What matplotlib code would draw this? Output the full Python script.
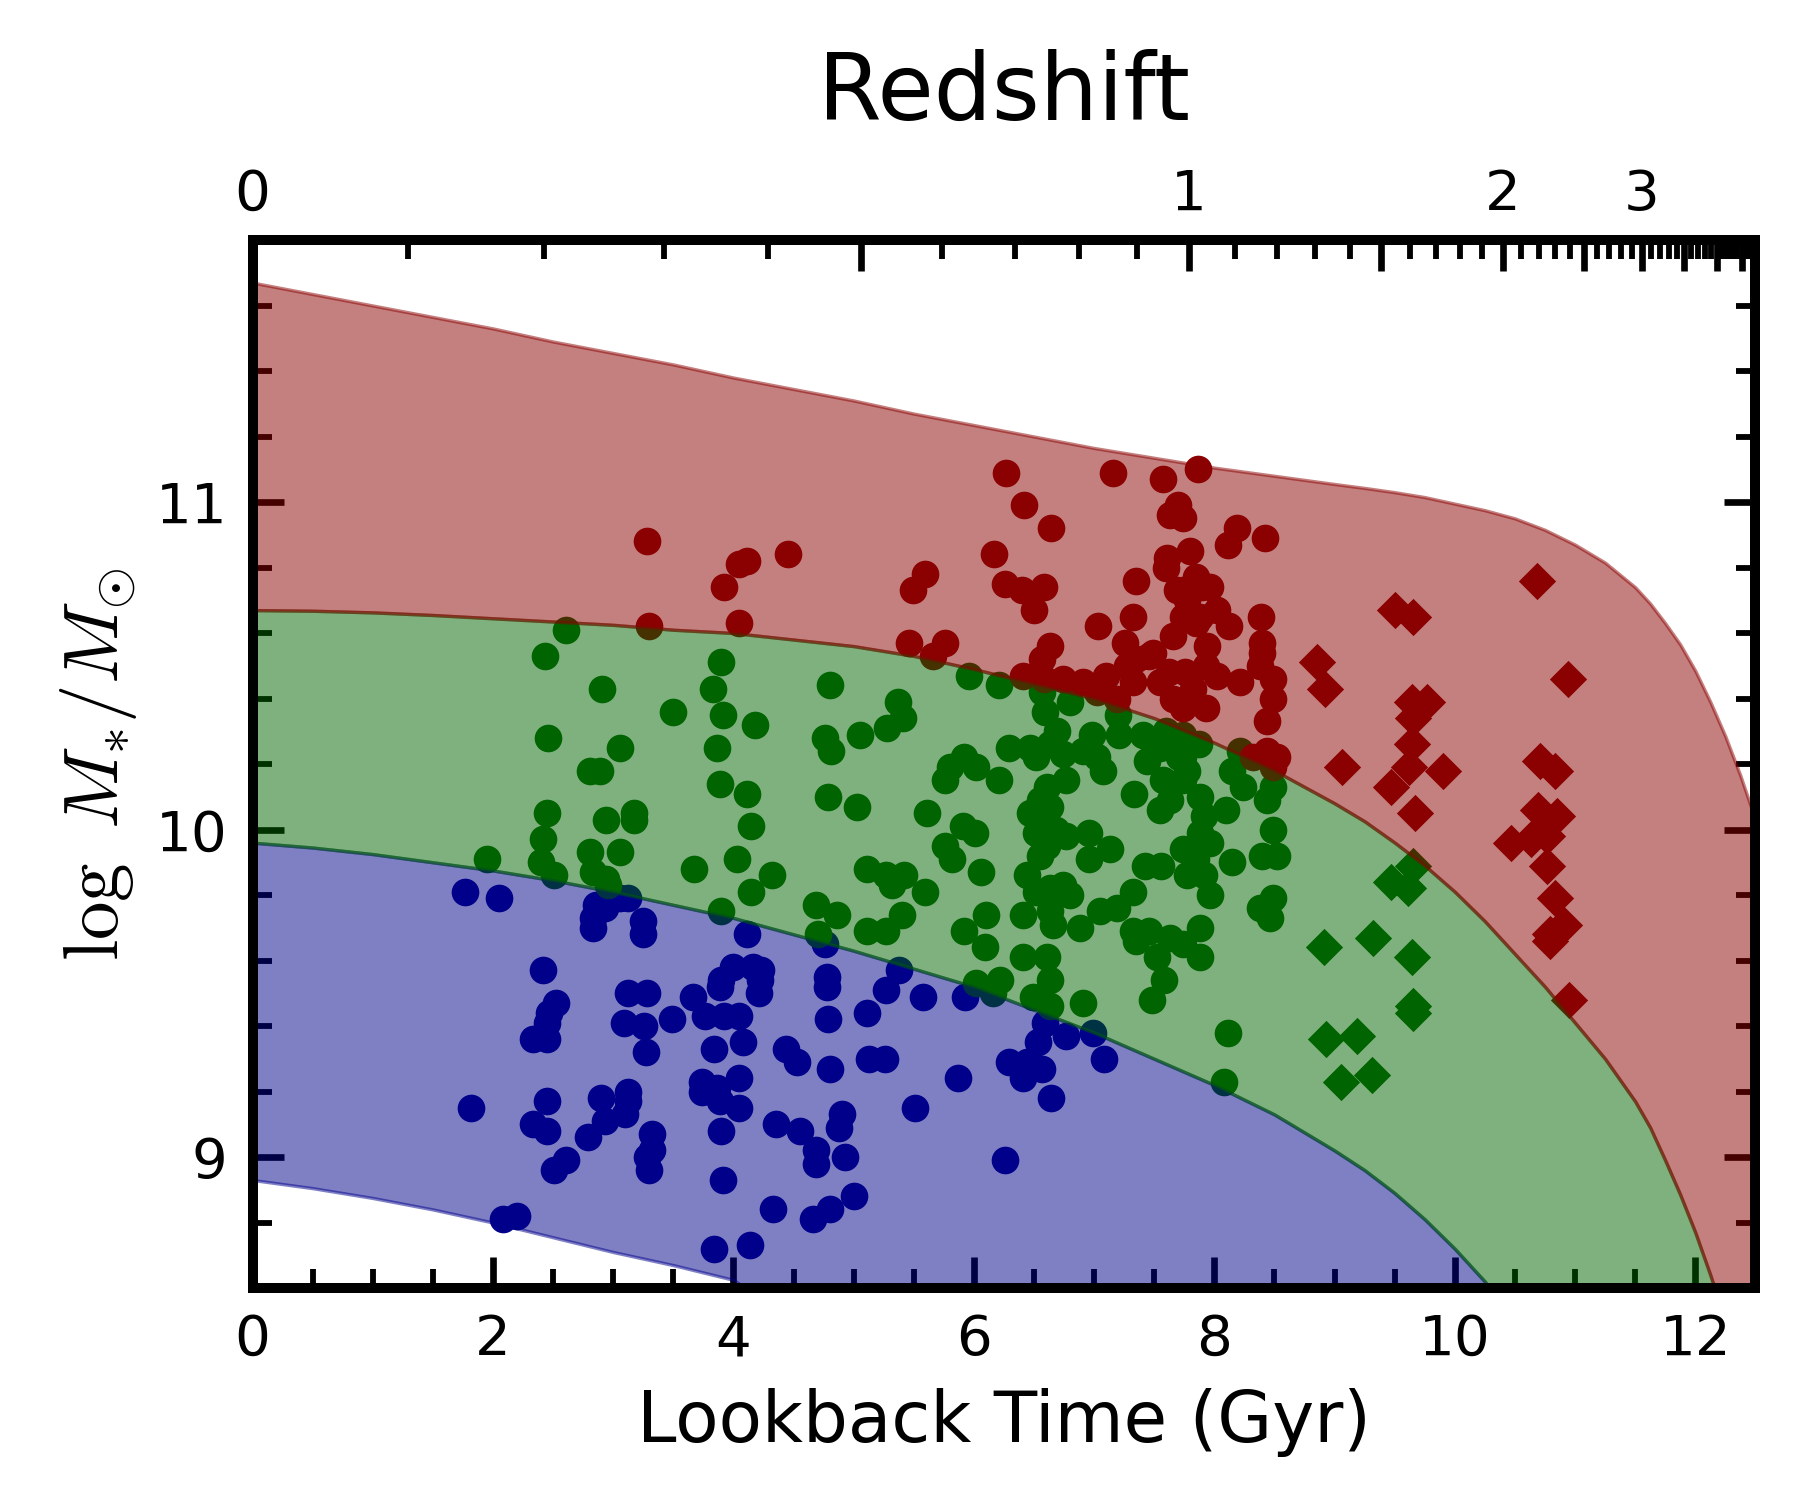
import numpy as np
import matplotlib
matplotlib.use("Agg")
import matplotlib.pyplot as plt
from matplotlib.ticker import MultipleLocator, FixedLocator, FixedFormatter

plt.rcParams["mathtext.fontset"] = "cm"

# ── Band boundaries (lookback time in Gyr, log stellar mass) ─────────────────
T_GRID = [0, 0.5, 1, 1.5, 2, 2.5, 3, 3.5, 4, 4.5, 5, 5.5, 6, 6.5, 7, 7.5, 8,
          8.5, 9, 9.25, 9.5, 9.75, 10, 10.25, 10.5, 10.75, 11, 11.25, 11.5,
          11.625, 11.75, 11.875, 12, 12.125, 12.25, 12.375, 12.5]
TOP_RED = [11.67, 11.635, 11.60, 11.565, 11.53, 11.49, 11.455, 11.42, 11.38,
           11.345, 11.31, 11.27, 11.235, 11.20, 11.165, 11.135, 11.105, 11.08,
           11.055, 11.043, 11.03, 11.015, 10.995, 10.975, 10.95, 10.915, 10.87,
           10.815, 10.74, 10.69, 10.63, 10.565, 10.485, 10.39, 10.285, 10.165,
           10.03]
RED_GREEN = [10.67, 10.668, 10.663, 10.655, 10.645, 10.635, 10.625, 10.61,
             10.60, 10.58, 10.56, 10.53, 10.49, 10.445, 10.40, 10.34, 10.265,
             10.18, 10.08, 10.025, 9.96, 9.89, 9.81, 9.72, 9.62, 9.52, 9.41,
             9.30, 9.17, 9.09, 8.99, 8.885, 8.77, 8.64, 8.50, 8.40, 8.30]
GREEN_BLUE = [9.96, 9.945, 9.925, 9.90, 9.875, 9.845, 9.81, 9.77, 9.73, 9.68,
              9.63, 9.575, 9.52, 9.45, 9.38, 9.30, 9.22, 9.13, 9.02, 8.96,
              8.89, 8.81, 8.72, 8.62, 8.50, 8.40, 8.30, 8.20, 8.10, 8.05,
              8.00, 7.95, 7.90, 7.85, 7.80, 7.75, 7.70]
BOTTOM_BLUE = [8.93, 8.905, 8.875, 8.84, 8.80, 8.755, 8.71, 8.67, 8.625, 8.50,
               8.40, 8.30, 8.20, 8.10, 8.00, 7.90, 7.80, 7.70, 7.60, 7.55,
               7.50, 7.45, 7.40, 7.35, 7.30, 7.25, 7.20, 7.15, 7.10, 7.05,
               7.00, 6.95, 6.90, 6.85, 6.80, 6.75, 6.70]

# ── Galaxies (lookback time, log M*) ─────────────────────────────────────────
BLUE_CIRCLES = [
    (1.77, 9.81), (2.05, 9.79), (2.86, 9.77), (2.83, 9.73), (2.83, 9.70),
    (2.93, 9.76), (3.06, 9.79), (3.12, 9.79), (3.25, 9.72), (3.25, 9.68),
    (4.11, 9.68), (4.76, 9.65), (5.38, 9.57), (2.42, 9.57), (2.52, 9.47),
    (2.47, 9.44), (2.45, 9.41), (2.33, 9.36), (2.45, 9.36), (3.12, 9.50),
    (3.28, 9.50), (3.09, 9.41), (3.26, 9.40), (3.27, 9.32), (3.49, 9.42),
    (3.66, 9.49), (3.89, 9.52), (3.90, 9.54), (4.00, 9.58), (4.16, 9.58),
    (4.23, 9.57), (4.22, 9.54), (4.21, 9.50), (3.76, 9.43), (3.92, 9.43),
    (4.05, 9.43), (3.84, 9.33), (4.08, 9.35), (4.78, 9.55), (4.78, 9.52),
    (4.79, 9.42), (5.27, 9.51), (5.11, 9.44), (4.44, 9.33), (4.53, 9.29),
    (4.80, 9.27), (5.13, 9.30), (5.26, 9.30), (1.82, 9.15), (2.45, 9.17),
    (2.33, 9.10), (2.45, 9.08), (2.79, 9.06), (2.90, 9.18), (2.93, 9.11),
    (3.12, 9.20), (3.12, 9.17), (3.10, 9.13), (2.61, 8.99), (2.51, 8.96),
    (3.32, 9.07), (3.32, 9.02), (3.28, 9.00), (3.30, 8.96), (3.74, 9.23),
    (3.86, 9.21), (3.74, 9.20), (4.05, 9.24), (3.89, 9.17), (4.05, 9.15),
    (3.90, 9.08), (4.35, 9.10), (4.55, 9.08), (4.90, 9.13), (4.88, 9.09),
    (4.69, 9.02), (4.69, 8.98), (4.93, 9.00), (3.91, 8.93), (4.33, 8.84),
    (4.66, 8.81), (4.80, 8.84), (5.00, 8.88), (2.08, 8.81), (2.20, 8.82),
    (3.84, 8.72), (4.14, 8.73), (5.58, 9.49), (5.93, 9.49), (5.87, 9.24),
    (5.51, 9.15), (6.26, 8.99), (6.29, 9.29), (6.41, 9.24), (6.57, 9.27),
    (6.53, 9.35), (6.44, 9.29), (6.64, 9.18), (6.77, 9.37), (6.59, 9.41),
    (6.99, 9.38), (7.08, 9.30),
]
GREEN_CIRCLES = [
    (1.95, 9.91), (2.40, 9.90), (2.42, 9.97), (2.45, 10.05), (2.51, 9.86),
    (2.46, 10.28), (2.43, 10.53), (2.61, 10.61), (2.91, 10.43), (3.06, 10.25),
    (2.81, 10.18), (2.89, 10.18), (2.94, 10.03), (3.17, 10.05), (3.17, 10.03),
    (2.81, 9.93), (2.83, 9.87), (2.94, 9.85), (2.96, 9.83), (3.06, 9.93),
    (3.50, 10.36), (3.90, 10.51), (3.83, 10.43), (3.91, 10.35), (4.18, 10.32),
    (3.86, 10.25), (3.89, 10.14), (4.11, 10.11), (4.15, 10.01), (4.03, 9.91),
    (3.67, 9.88), (4.32, 9.86), (4.15, 9.81), (3.90, 9.75), (4.80, 10.44),
    (4.76, 10.28), (4.81, 10.24), (5.05, 10.29), (4.79, 10.10), (5.03, 10.07),
    (4.69, 9.77), (4.86, 9.74), (4.70, 9.68), (5.11, 9.88), (5.27, 9.86),
    (5.42, 9.86), (5.59, 9.81), (5.32, 9.83), (5.11, 9.69), (5.27, 9.69),
    (5.40, 9.74), (5.37, 10.39), (5.41, 10.34), (5.28, 10.31), (5.96, 10.47),
    (6.21, 10.44), (6.57, 10.42), (6.59, 10.36), (6.80, 10.39), (7.20, 10.35),
    (7.21, 10.29), (7.41, 10.29), (6.69, 10.30), (6.63, 10.26), (6.74, 10.23),
    (6.98, 10.29), (6.91, 10.24), (7.02, 10.22), (7.07, 10.18), (6.29, 10.25),
    (6.47, 10.25), (6.52, 10.22), (5.92, 10.22), (5.80, 10.19), (6.02, 10.19),
    (5.76, 10.15), (6.21, 10.15), (5.61, 10.05), (5.91, 10.01), (6.01, 9.99),
    (5.76, 9.95), (5.82, 9.91), (6.06, 9.87), (6.61, 10.13), (6.55, 10.09),
    (6.47, 10.05), (6.63, 10.07), (6.57, 10.01), (6.68, 10.00), (6.77, 9.98),
    (6.52, 9.99), (6.77, 10.15), (6.96, 9.99), (7.13, 9.94), (6.96, 9.91),
    (6.55, 9.92), (6.61, 9.95), (7.33, 10.11), (7.44, 10.21), (7.55, 10.25),
    (7.57, 10.15), (7.55, 10.06), (7.63, 10.09), (7.74, 10.15), (7.77, 10.18),
    (7.71, 10.22), (7.88, 10.10), (7.91, 10.04), (7.88, 9.99), (7.96, 9.96),
    (7.74, 9.94), (7.85, 9.91), (7.91, 9.86), (7.96, 9.80), (7.77, 9.86),
    (8.15, 10.18), (8.24, 10.13), (8.10, 10.06), (8.49, 10.13), (8.44, 10.09),
    (8.49, 10.00), (8.40, 9.92), (8.52, 9.92), (8.15, 9.90), (8.49, 9.79),
    (8.38, 9.76), (8.46, 9.73), (6.10, 9.74), (5.92, 9.69), (6.09, 9.64),
    (6.41, 9.74), (6.44, 9.86), (6.52, 9.81), (6.63, 9.82), (6.74, 9.83),
    (6.80, 9.80), (6.63, 9.75), (6.66, 9.71), (6.88, 9.70), (7.05, 9.75),
    (7.19, 9.76), (7.32, 9.81), (7.42, 9.89), (7.56, 9.89), (7.32, 9.69),
    (7.35, 9.66), (7.46, 9.69), (7.52, 9.61), (7.63, 9.67), (7.74, 9.65),
    (7.88, 9.70), (7.88, 9.61), (7.58, 9.54), (7.48, 9.48), (6.41, 9.61),
    (6.61, 9.61), (6.63, 9.54), (6.49, 9.49), (6.63, 9.46), (6.22, 9.54),
    (6.02, 9.53), (6.16, 9.50), (6.91, 9.47), (8.11, 9.38), (8.08, 9.23),
    (7.74, 10.29), (7.87, 10.26), (7.74, 10.22), (8.21, 10.24), (7.60, 10.30),
]
RED_CIRCLES = [
    (3.28, 10.88), (3.30, 10.62), (3.92, 10.74), (4.05, 10.81), (4.11, 10.82),
    (4.05, 10.63), (4.45, 10.84), (5.46, 10.57), (5.76, 10.57), (5.66, 10.53),
    (5.49, 10.73), (5.59, 10.78), (6.27, 11.09), (6.42, 10.99), (6.64, 10.92),
    (6.17, 10.84), (6.26, 10.75), (6.40, 10.73), (6.58, 10.74), (6.50, 10.67),
    (6.63, 10.56), (6.57, 10.52), (6.41, 10.47), (6.58, 10.46), (6.74, 10.46),
    (6.91, 10.45), (7.10, 10.47), (7.02, 10.42), (7.19, 10.40), (7.03, 10.62),
    (7.16, 11.09), (7.35, 10.76), (7.32, 10.65), (7.26, 10.57), (7.35, 10.52),
    (7.46, 10.53), (7.32, 10.45), (7.27, 10.50), (7.57, 11.07), (7.86, 11.10),
    (7.70, 10.99), (7.63, 10.96), (7.74, 10.95), (8.19, 10.92), (8.11, 10.87),
    (8.42, 10.89), (7.60, 10.80), (7.80, 10.85), (7.85, 10.77), (7.74, 10.73),
    (7.90, 10.74), (8.02, 10.67), (7.74, 10.65), (7.85, 10.63), (8.12, 10.62),
    (7.61, 10.83), (7.96, 10.74), (7.69, 10.73), (7.77, 10.70), (7.66, 10.59),
    (8.39, 10.65), (8.40, 10.57), (7.88, 10.65), (7.49, 10.54), (7.94, 10.56),
    (7.93, 10.50), (7.76, 10.48), (7.62, 10.48), (7.55, 10.45), (7.66, 10.40),
    (7.74, 10.37), (7.93, 10.37), (8.02, 10.47), (8.21, 10.45), (8.40, 10.54),
    (8.38, 10.50), (8.49, 10.46), (8.49, 10.40), (8.44, 10.33), (7.82, 10.43),
    (8.32, 10.22), (8.44, 10.24), (8.52, 10.22), (8.49, 10.19),
]
RED_DIAMONDS = [
    (10.68, 10.76), (9.50, 10.67), (9.65, 10.65), (8.85, 10.51), (8.92, 10.43),
    (10.94, 10.46), (9.64, 10.39), (9.77, 10.39), (9.65, 10.34), (9.64, 10.26),
    (9.62, 10.19), (9.90, 10.18), (9.47, 10.13), (9.67, 10.05), (9.06, 10.19),
    (10.71, 10.21), (10.83, 10.18), (10.69, 10.06), (10.85, 10.04),
    (10.47, 9.96), (10.63, 9.97), (10.77, 9.98), (10.77, 9.89), (10.83, 9.79),
    (10.91, 9.71), (10.79, 9.68), (10.79, 9.66), (10.95, 9.48),
]
GREEN_DIAMONDS = [
    (9.47, 9.84), (9.65, 9.89), (9.61, 9.82), (8.91, 9.64), (9.32, 9.67),
    (9.64, 9.61), (9.65, 9.46), (9.65, 9.44), (8.93, 9.36), (9.19, 9.37),
    (9.05, 9.23), (9.31, 9.25),
]

# Redshift ticks for the top axis
Z_MAJOR = [0, 0.5, 1, 1.5, 2, 2.5, 3, 3.5, 4, 4.5, 5]
Z_LABELS = ["0", "", "1", "", "2", "", "3", "", "", "", ""]
H0, OMEGA_M = 70.4, 0.272


def lookback(z):
    zz = np.linspace(0.0, z, 2001)
    ez = np.sqrt(OMEGA_M * (1 + zz) ** 3 + (1 - OMEGA_M))
    return 977.8 / H0 * np.trapezoid(1.0 / ((1 + zz) * ez), zz)


fig = plt.figure(figsize=(6, 5), dpi=300)
ax = fig.add_axes([0.1403, 0.1413, 0.8349, 0.6987])

for pts, col, mk in [(BLUE_CIRCLES, "darkblue", "o"),
                     (GREEN_CIRCLES, "darkgreen", "o"),
                     (RED_CIRCLES, "darkred", "o"),
                     (GREEN_DIAMONDS, "darkgreen", "D"),
                     (RED_DIAMONDS, "darkred", "D")]:
    t, m = zip(*pts)
    ax.scatter(t, m, s=44 if mk == "o" else 40, c=col, marker=mk,
               linewidths=0, zorder=2)

ax.fill_between(T_GRID, BOTTOM_BLUE, GREEN_BLUE, color="darkblue", alpha=0.5,
                linewidth=0.8, zorder=3)
ax.fill_between(T_GRID, GREEN_BLUE, RED_GREEN, color="darkgreen", alpha=0.5,
                linewidth=0.8, zorder=3)
ax.fill_between(T_GRID, RED_GREEN, TOP_RED, color="darkred", alpha=0.5,
                linewidth=0.8, zorder=3)

ax.set_xlim(0, 12.5)
ax.set_ylim(8.6, 11.8)
ax.xaxis.set_major_locator(MultipleLocator(2))
ax.xaxis.set_minor_locator(MultipleLocator(0.5))
ax.yaxis.set_major_locator(MultipleLocator(1))
ax.yaxis.set_minor_locator(MultipleLocator(0.2))
ax.tick_params(which="both", direction="in", top=False, right=True,
               labelsize=13.5, pad=6)
ax.tick_params(which="major", length=7.5, width=1.6)
ax.tick_params(which="minor", length=4.5, width=1.4)
for sp in ax.spines.values():
    sp.set_linewidth(2.4)
ax.set_xlabel("Lookback Time (Gyr)", fontsize=17, labelpad=5)
ax.set_ylabel(r"$\log\ M_{*}/M_{\odot}$", fontsize=18.5, labelpad=4)

# ── Top redshift axis ────────────────────────────────────────────────────────
ax2 = ax.twiny()
ax2.set_xlim(ax.get_xlim())
ax2.xaxis.set_major_locator(FixedLocator([lookback(z) for z in Z_MAJOR]))
ax2.xaxis.set_major_formatter(FixedFormatter(Z_LABELS))
z_minor = [round(0.1 * i, 1) for i in range(1, 60) if i % 5]
ax2.xaxis.set_minor_locator(FixedLocator([lookback(z) for z in z_minor]))
ax2.tick_params(which="both", direction="in", labelsize=13.5, pad=4.3)
ax2.tick_params(which="major", length=7.5, width=1.6)
ax2.tick_params(which="minor", length=4.5, width=1.4)
for sp in ax2.spines.values():
    sp.set_linewidth(2.4)
ax2.set_xlabel("Redshift", fontsize=22, labelpad=11.5)

fig.savefig("out.png", dpi=300)
